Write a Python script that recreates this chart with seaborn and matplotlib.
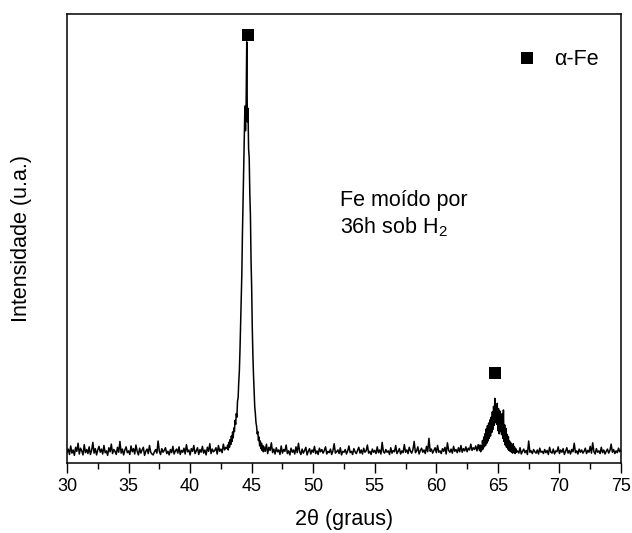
import numpy as np
import pandas as pd
import matplotlib
matplotlib.use("Agg")
import matplotlib.pyplot as plt
from matplotlib.lines import Line2D
import seaborn as sns

# ---------------- data (arbitrary units 0-100) ----------------
# background 30.0 .. 42.9 (step 0.1)
seg_a = [2.4, 3.1, 1.9, 3.8, 2.2, 2.9, 1.7, 3.5, 2.6, 4.4,
         2.0, 3.3, 2.7, 1.8, 4.1, 2.3, 3.0, 2.1, 3.6, 1.9,
         2.8, 4.6, 2.2, 3.2, 1.8, 2.9, 3.7, 2.4, 3.1, 2.0,
         3.9, 2.3, 2.7, 1.7, 3.4, 2.5, 4.2, 2.1, 3.0, 2.6,
         1.9, 3.5, 2.4, 4.8, 2.2, 3.1, 1.8, 2.9, 3.6, 2.3,
         2.7, 1.9, 3.8, 2.5, 3.2, 2.0, 4.0, 2.6, 1.8, 3.3,
         2.2, 2.9, 3.5, 1.7, 2.6, 3.1, 2.1, 3.9, 2.4, 2.0,
         1.8, 2.5, 3.0, 2.2, 4.9, 2.6, 1.9, 3.2, 2.4, 2.8,
         3.4, 2.1, 2.6, 1.8, 3.0, 2.3, 3.7, 2.0, 2.7, 3.1,
         2.2, 3.6, 1.9, 2.8, 2.4, 3.3, 2.0, 4.1, 2.5, 2.9,
         1.8, 3.2, 2.6, 3.9, 2.1, 2.7, 3.4, 1.9, 3.0, 2.4,
         3.7, 2.2, 2.9, 1.8, 3.5, 2.6, 4.3, 2.1, 3.1, 2.5,
         2.8, 3.4, 2.0, 3.9, 2.6, 3.1, 2.3, 4.2, 2.9, 3.5]
# alpha-Fe (110) peak 43.00 .. 46.00 (step 0.05)
seg_b = [3.2, 4.0, 2.9, 4.6, 3.5, 5.2, 4.1, 6.0, 4.8, 6.9,
         5.6, 7.8, 7.0, 9.5, 8.6, 11.0, 10.2, 13.8, 14.5, 18.0,
         20.5, 25.0, 30.5, 36.0, 42.0, 51.0, 58.0, 66.0, 72.0, 79.5,
         74.0, 80.0, 93.8, 76.0, 79.0, 70.0, 68.0, 60.0, 55.0, 45.0,
         39.0, 30.0, 24.0, 19.5, 16.0, 12.5, 11.0, 9.0, 8.2, 6.5,
         7.0, 5.0, 5.8, 3.8, 4.9, 3.2, 4.4, 2.8, 3.9, 2.5,
         3.6]
# background 46.1 .. 63.4 (step 0.1)
seg_c = [2.6, 4.2, 2.1, 3.5, 2.8, 4.5, 2.3, 3.1, 2.0,
         3.4, 2.5, 2.9, 1.9, 3.8, 2.2, 3.0, 2.6, 4.0, 2.1,
         2.7, 1.8, 3.3, 2.4, 2.9, 2.0, 3.6, 2.3, 4.4, 2.5,
         1.9, 3.1, 2.2, 2.8, 3.5, 1.8, 2.6, 3.2, 2.0, 2.9,
         2.4, 3.7, 2.1, 2.7, 1.9, 3.3, 2.5, 3.0, 2.2, 2.8,
         3.6, 2.0, 2.6, 2.3, 3.1, 1.9, 2.7, 4.3, 2.2, 2.5,
         2.9, 2.1, 3.4, 1.8, 2.6, 2.4, 3.0, 2.0, 2.7, 3.8,
         2.3, 2.6, 1.9, 3.2, 2.5, 2.1, 2.8, 3.5, 2.2, 2.9,
         2.0, 3.3, 2.4, 2.7, 4.0, 2.2, 2.6, 1.9, 3.1, 2.4,
         2.8, 2.1, 3.6, 2.3, 2.9, 2.0, 4.6, 2.5, 2.2, 3.0,
         2.4, 2.7, 1.9, 3.4, 2.2, 2.8, 2.5, 3.9, 2.1, 2.6,
         3.2, 2.0, 2.7, 2.3, 4.1, 2.4, 2.9, 2.1, 3.5, 2.6,
         2.2, 3.0, 4.8, 2.3, 2.7, 3.6, 2.0, 2.8, 3.3, 2.4,
         2.9, 2.1, 3.7, 2.5, 5.5, 2.6, 3.1, 2.2, 2.8, 3.4,
         2.3, 3.9, 2.4, 2.7, 2.1, 3.2, 2.6, 3.5, 2.0, 4.5,
         2.8, 2.4, 3.1, 2.2, 3.7, 2.6, 3.0, 2.3, 3.4, 2.5,
         3.9, 2.4, 3.2, 2.7, 3.6, 2.5, 3.3, 2.9, 4.2, 2.8,
         3.4, 3.0, 3.8, 2.7, 4.1]
# alpha-Fe (200) peak 63.50 .. 66.50 (step 0.05)
seg_d = [2.8, 4.0, 2.5, 3.8, 2.9, 5.0, 3.1, 5.8, 3.6, 6.5,
         3.9, 7.6, 4.4, 8.3, 4.9, 8.9, 5.5, 9.6, 6.0, 10.2,
         6.8, 11.4, 7.5, 12.6, 8.4, 14.4, 9.0, 13.0, 8.6, 13.3,
         7.2, 12.1, 6.5, 11.6, 7.0, 10.4, 6.3, 11.0, 5.5, 11.8,
         4.8, 8.5, 4.0, 7.7, 3.5, 6.4, 3.1, 5.9, 2.8, 4.9,
         2.6, 4.5, 2.4, 3.9, 2.2, 4.3, 2.5, 3.6, 2.1, 3.2,
         2.4]
# background 66.6 .. 75.0 (step 0.1)
seg_e = [2.7, 2.2, 3.4, 2.0,
         2.6, 3.1, 2.3, 2.8, 1.9, 4.9, 2.4, 2.7, 2.1, 3.0,
         2.5, 2.2, 2.9, 2.0, 3.3, 2.4, 2.6, 2.1, 3.0, 2.3,
         2.8, 1.9, 3.5, 2.4, 2.2, 3.1, 2.0, 2.7, 2.5, 3.6,
         2.1, 2.9, 2.4, 3.2, 1.9, 2.6, 3.4, 2.2, 2.8, 2.0,
         3.0, 2.5, 4.4, 2.3, 2.7, 2.0, 3.1, 2.4, 2.9, 2.2,
         2.6, 3.3, 2.1, 2.8, 2.4, 3.7, 2.2, 4.5, 2.5, 2.0,
         3.2, 2.4, 2.7, 2.1, 3.5, 2.3, 2.9, 2.0, 2.6, 3.1,
         2.2, 2.8, 4.2, 2.4, 3.0, 2.1, 2.7, 2.3, 3.3, 2.5,
         2.9]

# 2-theta sampling grids of each segment
grid_a = np.linspace(30.0, 42.9, 130)
grid_b = np.linspace(43.0, 46.0, 61)
grid_c = np.linspace(46.1, 63.4, 174)
grid_d = np.linspace(63.5, 66.5, 61)
grid_e = np.linspace(66.6, 75.0, 85)

# alpha-Fe reflection markers
peak_pos = [44.70, 64.77]
peak_mark = [95.3, 20.1]

xticks = [30, 35, 40, 45, 50, 55, 60, 65, 70, 75]

# ---------------- figure ----------------
sns.set_style("ticks")
plt.rcParams["font.family"] = ["Liberation Sans", "DejaVu Sans"]
plt.rcParams["mathtext.fontset"] = "custom"
plt.rcParams["mathtext.rm"] = "Liberation Sans"
plt.rcParams["mathtext.default"] = "regular"
plt.rcParams["text.color"] = "black"
plt.rcParams["axes.labelcolor"] = "black"
plt.rcParams["xtick.color"] = "black"
plt.rcParams["ytick.color"] = "black"

df = pd.DataFrame({
    "theta": np.concatenate([grid_a, grid_b, grid_c, grid_d, grid_e]),
    "inten": np.concatenate([seg_a, seg_b, seg_c, seg_d, seg_e]),
})

fig = plt.figure(figsize=(6.32, 5.33), dpi=100)
ax = fig.add_axes([67 / 632, 1 - 463 / 533, (621 - 67) / 632, (463 - 14) / 533])

sns.lineplot(data=df, x="theta", y="inten", ax=ax, color="black",
             linewidth=1.1, estimator=None, sort=True)
ax.plot(peak_pos, peak_mark, linestyle="none", marker="s", markersize=8.8,
        markeredgewidth=0, color="black")

ax.set_xlim(30, 75)
ax.set_ylim(0, 100)
ax.set_xticks(xticks)
ax.set_xticks(np.arange(32.5, 75, 5), minor=True)
ax.set_yticks([])
ax.tick_params(axis="x", which="major", length=7, width=1.0, direction="out",
               labelsize=13, pad=4, colors="black")
ax.tick_params(axis="x", which="minor", length=4, width=1.0, direction="out",
               colors="black")
for s in ax.spines.values():
    s.set_linewidth(1.1)
    s.set_color("black")

ax.set_xlabel("2θ (graus)", fontsize=15.5, labelpad=10, color="black")
ax.set_ylabel("Intensidade (u.a.)", fontsize=15.5, labelpad=25, color="black")

ax.text(52.2, 60.8, "Fe moído por\n36h sob H$_2$", fontsize=15.5,
        ha="left", va="top", linespacing=1.25, color="black")

handle = Line2D([], [], linestyle="none", marker="s", markersize=8.8,
                markeredgewidth=0, color="black")
leg = ax.legend([handle], ["α-Fe"], loc="upper right", frameon=False,
                fontsize=15.5, handlelength=1.0, handletextpad=0.75,
                bbox_to_anchor=(0.995, 0.965))
for t in leg.get_texts():
    t.set_color("black")

fig.savefig("out.png", dpi=100)
